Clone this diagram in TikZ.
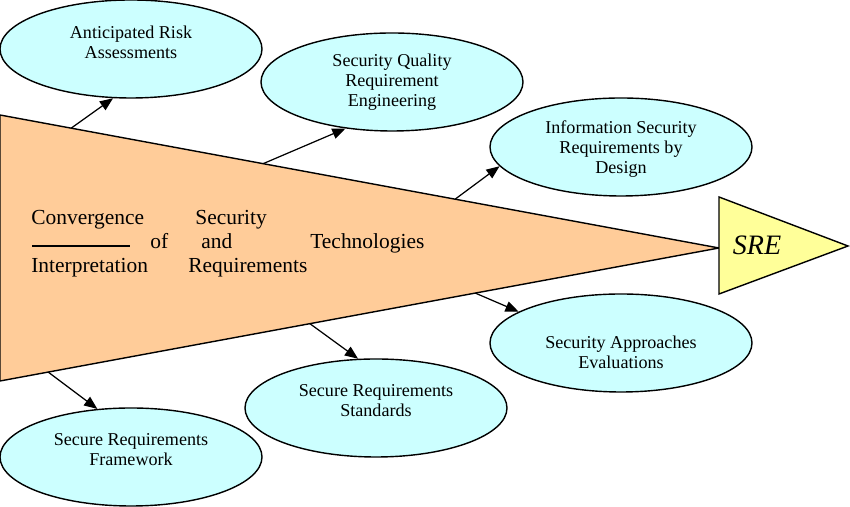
\documentclass[tikz,border=0pt]{standalone}
\usepackage{fontspec}
\setmainfont{Liberation Serif}
\usepackage{xcolor}
\usepackage{tikz}
\usetikzlibrary{shapes.geometric,arrows.meta,calc,positioning}
\definecolor{bubblecyan}{RGB}{204,255,255}
\definecolor{funnelorange}{RGB}{255,204,153}
\definecolor{srebyellow}{RGB}{255,255,153}

\begin{document}
\begin{tikzpicture}[
    bubble/.style={ellipse, draw=black, line width=0.8pt, fill=bubblecyan,
        minimum width=5.24cm, minimum height=1.96cm, inner sep=0pt},
    bubbletext/.style={align=center, font=\fontsize{10.3}{11.4}\selectfont},
    bigword/.style={anchor=base west, inner sep=0pt, font=\fontsize{12.2}{14}\selectfont},
    arr/.style={-{Triangle[length=7.5pt,width=6pt]}, line width=0.7pt}
]
\useasboundingbox (0,0) rectangle (17,10.14);

% 큰 삼각형 (수렴)
\coordinate (tl) at (0,7.84);
\coordinate (bl) at (0,2.52);
\coordinate (tip) at (14.38,5.18);
\filldraw[fill=funnelorange, line width=0.8pt] (tl) -- (tip) -- (bl) -- cycle;

% SRE 삼각형
\filldraw[fill=srebyellow, line width=0.8pt] (14.38,6.20) -- (16.96,5.22) -- (14.38,4.26) -- cycle;
\node[font=\fontsize{16}{18}\selectfont\itshape] (sre) at (15.14,5.24) {SRE};

% 삼각형 안의 글
\node[bigword] (w1) at (0.62,5.64) {Convergence};
\node[bigword] (w2) at (3.90,5.64) {Security};
\draw[line width=0.7pt] (0.64,5.22) -- (2.60,5.22);
\node[bigword] (w3) at (3.00,5.16) {of};
\node[bigword] (w4) at (4.02,5.16) {and};
\node[bigword] (w5) at (6.20,5.16) {Technologies};
\node[bigword] (w6) at (0.62,4.68) {Interpretation};
\node[bigword] (w7) at (3.76,4.68) {Requirements};

% 타원 (위쪽)
\node[bubble] (ara) at (2.62,9.16) {};
\node[bubbletext] (ara-t) at (2.62,9.30) {Anticipated Risk\\Assessments};
\node[bubble] (sqre) at (7.84,8.50) {};
\node[bubbletext] (sqre-t) at (7.84,8.50) {Security Quality\\Requirement\\Engineering};
\node[bubble] (isrd) at (12.42,7.20) {};
\node[bubbletext] (isrd-t) at (12.42,7.16) {Information Security\\Requirements by\\Design};

% 타원 (아래쪽)
\node[bubble] (sae) at (12.42,3.28) {};
\node[bubbletext] (sae-t) at (12.42,3.10) {Security Approaches\\Evaluations};
\node[bubble] (srs) at (7.52,1.98) {};
\node[bubbletext] (srs-t) at (7.52,2.12) {Secure Requirements\\Standards};
\node[bubble] (srf) at (2.62,1.00) {};
\node[bubbletext] (srf-t) at (2.62,1.14) {Secure Requirements\\Framework};

% 화살표 시작점 (삼각형 변 위)
\coordinate (s1) at ($(tl)!0.099!(tip)$);
\coordinate (s2) at ($(tl)!0.366!(tip)$);
\coordinate (s3) at ($(tl)!0.633!(tip)$);
\coordinate (s4) at ($(bl)!0.661!(tip)$);
\coordinate (s5) at ($(bl)!0.431!(tip)$);
\coordinate (s6) at ($(bl)!0.067!(tip)$);

\draw[arr] (s1) -- (ara.-110);
\draw[arr] (s2) -- (sqre.-135);
\draw[arr] (s3) -- (isrd.-171);
\draw[arr] (s4) -- (sae.163);
\draw[arr] (s5) -- (srs.110);
\draw[arr] (s6) -- (srf.125);

\end{tikzpicture}
\end{document}
